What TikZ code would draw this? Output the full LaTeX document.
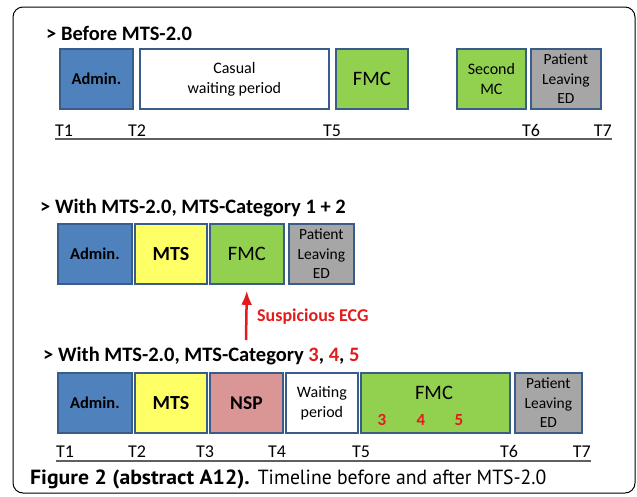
\documentclass[tikz,border=0pt]{standalone}
\usepackage{graphicx}
\usepackage{fontspec}
\setmainfont{Carlito}
\newfontfamily\capfont{PT Sans}
\usetikzlibrary{arrows.meta,positioning}
\definecolor{adminblue}{RGB}{79,129,189}
\definecolor{edgeblue}{RGB}{56,93,138}
\definecolor{mtsyellow}{RGB}{255,255,102}
\definecolor{fmcgreen}{RGB}{146,208,80}
\definecolor{nsppink}{RGB}{217,150,148}
\definecolor{leavegray}{RGB}{166,166,166}
\definecolor{ecgred}{RGB}{226,28,28}
\definecolor{axisgray}{RGB}{95,95,95}
\tikzset{
  basic/.style  = {draw=edgeblue, line width=1.8pt, rectangle, anchor=north west,
                   inner sep=0pt, minimum height=60pt, align=center},
  admin/.style  = {basic, fill=adminblue, font=\fontsize{16.5}{20}\selectfont\bfseries},
  mts/.style    = {basic, fill=mtsyellow, font=\fontsize{20}{24}\selectfont\bfseries},
  nsp/.style    = {basic, fill=nsppink, font=\fontsize{19.5}{24}\selectfont\bfseries},
  fmc/.style    = {basic, fill=fmcgreen, font=\fontsize{20.5}{24}\selectfont},
  second/.style = {basic, fill=fmcgreen, font=\fontsize{16}{20}\selectfont},
  wait/.style   = {basic, fill=white, font=\fontsize{16}{20}\selectfont},
  leave/.style  = {basic, fill=leavegray, font=\fontsize{15.5}{19.5}\selectfont},
  title/.style  = {anchor=west, inner sep=0pt, font=\fontsize{20.5}{24}\selectfont\bfseries},
  tick/.style   = {anchor=base west, inner sep=0pt, font=\fontsize{18}{20}\selectfont},
  axis/.style   = {draw=axisgray, line width=1.8pt},
  frame/.style  = {draw=black, line width=1pt, rounded corners=10pt}
}

\begin{document}
\begin{tikzpicture}[x=1pt, y=-1pt,
  ecg/.style={->, draw=ecgred, line width=2.5pt, shorten >=6pt},
  ecgtext/.style={anchor=west, inner sep=0pt, text=ecgred,
                  font=\fontsize{18}{20}\selectfont\bfseries},
  cat/.style={inner sep=0pt, text=ecgred, font=\fontsize{17}{20}\selectfont\bfseries},
  >={Latex[length=14pt,width=11pt]}]

\useasboundingbox (0,0) rectangle (637,496);
% frame round the figure
\draw[frame] (13,7) rectangle (635,493);

% first timeline, before MTS-2.0
\node[title] (h1) at (46,33) {> Before MTS-2.0};
\node[admin, minimum width=73pt] (a1) at (59,48) {Admin.};
\node[wait, minimum width=189pt] (w1) at (139,48) {Casual\\waiting period};
\node[fmc, minimum width=72pt] (f1) at (335,48) {FMC};
\node[second, minimum width=69pt] (s1) at (456,48) {Second\\MC};
\node[leave, minimum width=70pt] (l1) at (530,48) {Patient\\Leaving\\ED};

\node[tick] (t1a) at (55,136) {T1};
\node[tick] (t2a) at (128,136) {T2};
\node[tick] (t5a) at (323,136) {T5};
\node[tick] (t6a) at (522,136) {T6};
\node[tick, anchor=base east] (t7a) at (612,136) {T7};
\coordinate (axl1) at (55,139);
\coordinate (axr1) at (612,139);
\draw[axis] (axl1) -- (axr1);

% second timeline, category 1 + 2
\node[title] (h2) at (40,208) {> With MTS-2.0, MTS-Category 1 + 2};
\node[admin, minimum width=74pt] (a2) at (57,223) {Admin.};
\node[mts, minimum width=72pt] (m2) at (134,223) {MTS};
\node[fmc, minimum width=74pt] (f2) at (209,223) {FMC};
\node[leave, minimum width=65pt] (l2) at (288,223) {Patient\\Leaving\\ED};

\coordinate (ecgfoot) at (246,340);
\draw[ecg] (ecgfoot) -- (f2.south);
\node[ecgtext] (ecg) at (257,317) {Suspicious ECG};

% third timeline, category 3, 4, 5
\node[title] (h3) at (43,356) {> With MTS-2.0, MTS-Category
  {\color{ecgred}3}, {\color{ecgred}4}, {\color{ecgred}5}};
\node[admin, minimum width=74pt] (a3) at (57,372) {Admin.};
\node[mts, minimum width=72pt] (m3) at (134,372) {MTS};
\node[nsp, minimum width=73pt] (n3) at (209,372) {NSP};
\node[wait, minimum width=72pt] (w3) at (285,372) {Waiting\\period};
\node[fmc, minimum width=149pt] (f3) at (360,372) {};
\node[font=\fontsize{20.5}{24}\selectfont, inner sep=0pt] (f3txt) at (434,393) {FMC};
\node[cat] (c3) at (382,420) {3};
\node[cat] (c4) at (421,420) {4};
\node[cat] (c5) at (459,420) {5};
\node[leave, minimum width=67pt] (l3) at (514,372) {Patient\\Leaving\\ED};

\node[tick] (t1b) at (56,457) {T1};
\node[tick] (t2b) at (128,457) {T2};
\node[tick] (t3b) at (196,457) {T3};
\node[tick] (t4b) at (268,457) {T4};
\node[tick] (t5b) at (352,457) {T5};
\node[tick] (t6b) at (500,457) {T6};
\node[tick, anchor=base east] (t7b) at (591,457) {T7};
\coordinate (axl3) at (56,461);
\coordinate (axr3) at (591,461);
\draw[axis] (axl3) -- (axr3);

% caption under the figure
\node[anchor=west, inner sep=0pt, font=\capfont\fontsize{20.5}{24}\selectfont] (cap) at (30,479)
  {\scalebox{1.06}[1]{\textbf{Figure 2 (abstract A12).}}\hspace{8pt}%
   \scalebox{0.96}[1]{Timeline before and after MTS-2.0}};

\end{tikzpicture}
\end{document}
